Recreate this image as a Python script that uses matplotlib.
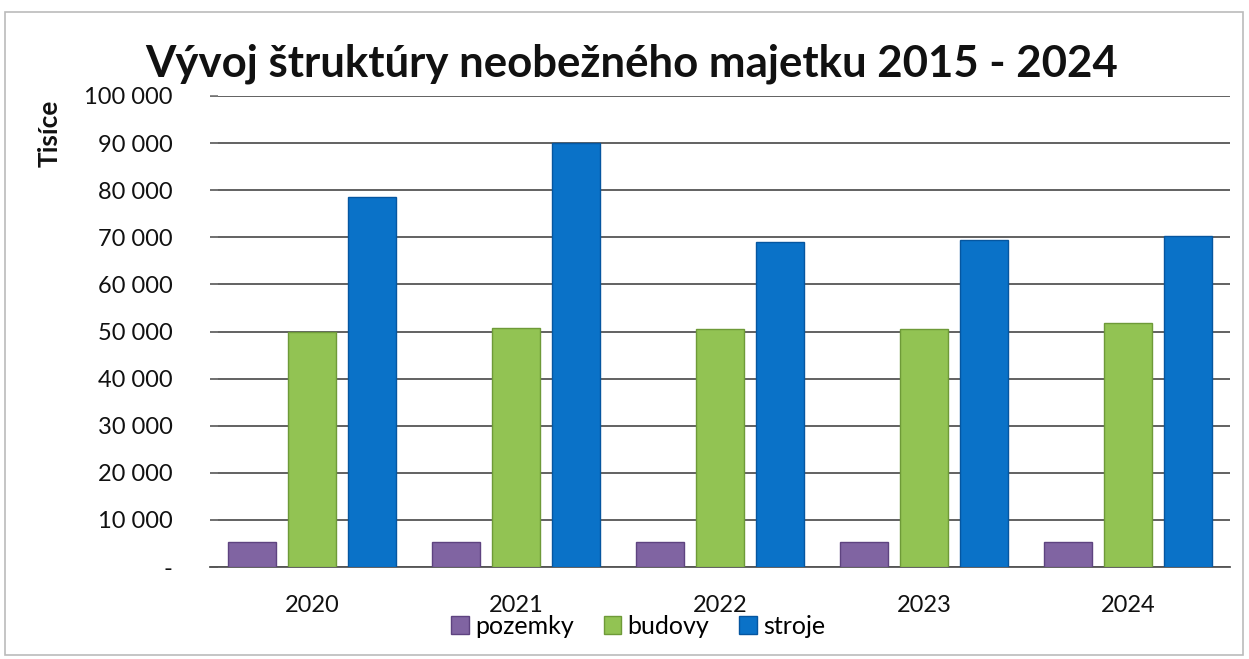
import matplotlib
matplotlib.use("Agg")
import matplotlib.pyplot as plt
import numpy as np
from matplotlib.patches import Rectangle

plt.rcParams['font.family'] = ['Lato', 'DejaVu Sans']

# data (thousands)
years = ["2020", "2021", "2022", "2023", "2024"]
pozemky = [5400, 5400, 5400, 5300, 5300]
budovy = [49800, 50700, 50600, 50500, 51800]
stroje = [78600, 90000, 69000, 69400, 70300]
series_names = ["pozemky", "budovy", "stroje"]
y_ticks = [0, 10000, 20000, 30000, 40000, 50000, 60000, 70000, 80000, 90000, 100000]

colors = ["#8064A2", "#92C353", "#0A72C8"]
edges = ["#5E4380", "#6E9A38", "#0556A0"]


def fmt(v):
    if v == 0:
        return "-"
    return f"{v:,}".replace(",", " ")


fig = plt.figure(figsize=(12.49, 6.59), dpi=100)
ax = fig.add_axes([210 / 1249, 1 - 567 / 659, 1020 / 1249, 471 / 659])

x = np.arange(len(years))
width = 0.235
step = 0.295
for i, (vals, name) in enumerate(zip([pozemky, budovy, stroje], series_names)):
    ax.bar(x + (i - 1) * step, vals, width, color=colors[i], edgecolor=edges[i],
           linewidth=1, label=name, zorder=3)

ax.set_xlim(-0.5, len(years) - 0.5)
ax.set_ylim(0, 100000)
ax.set_yticks(y_ticks)
ax.set_yticklabels([fmt(v) for v in y_ticks], fontsize=17, color="#111111")
ax.set_xticks(x)
ax.set_xticklabels(years, fontsize=17, color="#111111")
ax.tick_params(axis="x", length=0, pad=20)
ax.tick_params(axis="y", length=6, width=1.2, color="#777777", pad=27, direction="in")
ax.grid(axis="y", color="#555555", linewidth=1.3, zorder=0)
for s in ["top", "right", "left"]:
    ax.spines[s].set_visible(False)
ax.spines["bottom"].set_color("#555555")
ax.spines["bottom"].set_linewidth(1.3)

fig.text(50 / 1249, 1 - 133 / 659, "Tisíce", rotation=90, ha="center", va="center",
         fontsize=19, fontweight="bold", color="#111111")

fig.text(0.506, 1 - 64 / 659, "Vývoj štruktúry neobežného majetku 2015 - 2024",
         ha="center", va="center", fontsize=31.5, fontweight="bold", color="#111111")

leg = fig.legend(loc="center", bbox_to_anchor=(638 / 1249, 1 - 626 / 659), ncol=3,
                 frameon=False, fontsize=18, handlelength=0.7, handleheight=0.7,
                 handletextpad=0.25, columnspacing=1.2)

fig.add_artist(Rectangle((5 / 1249, 4 / 659), 1238 / 1249, 643 / 659,
                         transform=fig.transFigure, fill=False,
                         edgecolor="#BBBBBB", linewidth=1.2))

fig.savefig("out.png", dpi=100)
